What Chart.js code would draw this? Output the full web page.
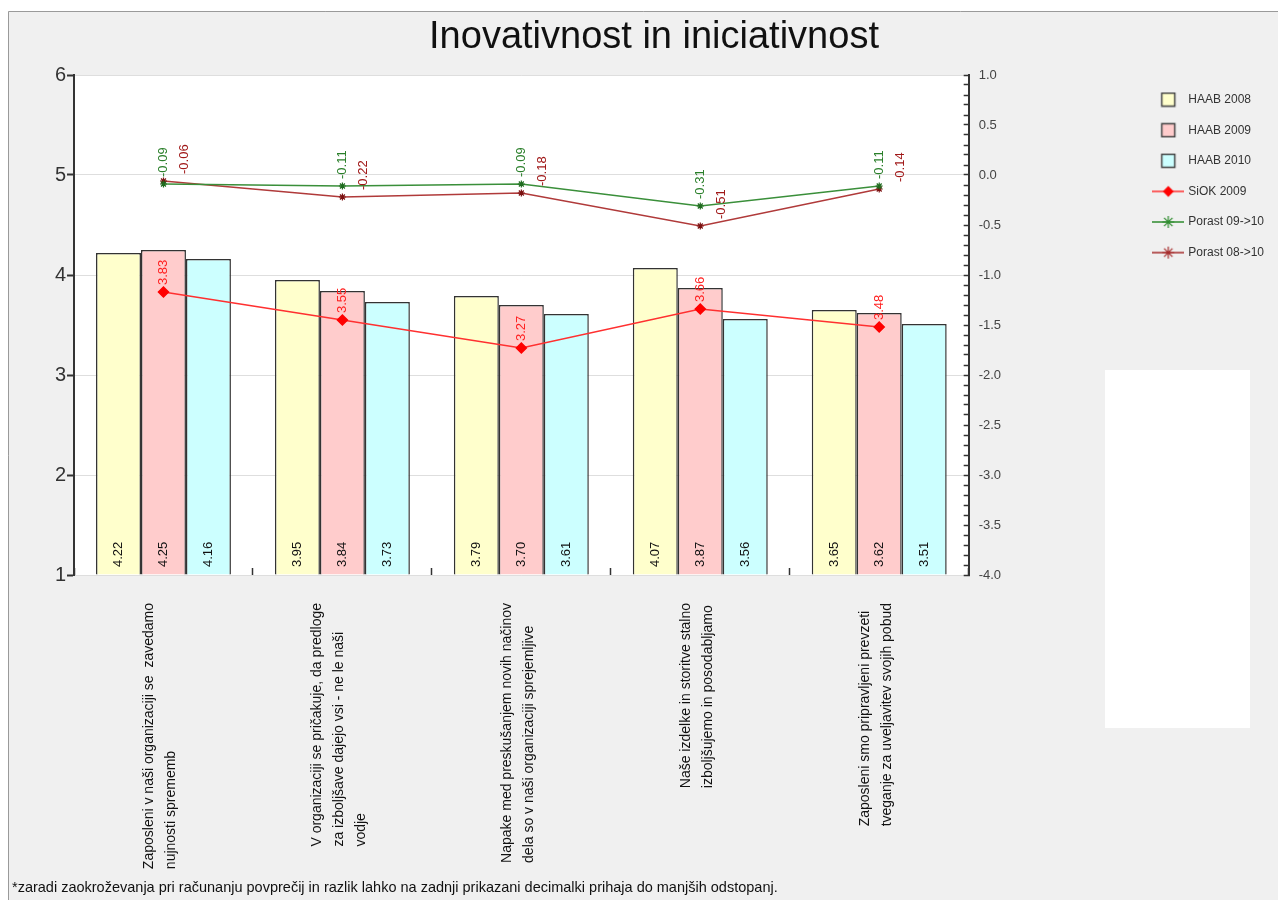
<!DOCTYPE html>
<html>
<head>
<meta charset="utf-8">
<title>Inovativnost in iniciativnost</title>
<script src="https://cdn.jsdelivr.net/npm/chart.js@4.4.1/dist/chart.umd.min.js"></script>
<style>
  html, body { margin: 0; padding: 0; background: #fff; }
  #wrap { position: relative; width: 1278px; height: 900px; }
</style>
</head>
<body>
<div id="wrap"><canvas id="mychart" width="1278" height="900"></canvas></div>
<script>
// categories, one array of lines per question
var categories = [
    ['Zaposleni v naši organizaciji se  zavedamo', 'nujnosti sprememb'],
    ['V organizaciji se pričakuje, da predloge', 'za izboljšave dajejo vsi - ne le naši', 'vodje'],
    ['Napake med preskušanjem novih načinov', 'dela so v naši organizaciji sprejemljive'],
    ['Naše izdelke in storitve stalno', 'izboljšujemo in posodabljamo'],
    ['Zaposleni smo pripravljeni prevzeti', 'tveganje za uveljavitev svojih pobud']
]

// series values
var haab2008 = [4.22, 3.95, 3.79, 4.07, 3.65]
var haab2009 = [4.25, 3.84, 3.70, 3.87, 3.62]
var haab2010 = [4.16, 3.73, 3.61, 3.56, 3.51]
var siok2009 = [3.83, 3.55, 3.27, 3.66, 3.48]
var porast0910 = [-0.09, -0.11, -0.09, -0.31, -0.11]
var porast0810 = [-0.06, -0.22, -0.18, -0.51, -0.14]

// axis ranges
var leftAxis = [1, 6, 1]        // min, max, step
var rightAxis = [-4, 1, 0.1]    // min, max, minor step

var footnote = '*zaradi zaokroževanja pri računanju povprečij in razlik lahko na zadnji prikazani decimalki prihaja do manjših odstopanj.'
var fontFamily = '"Liberation Sans", Arial, sans-serif'

Chart.defaults.font.family = fontFamily

// small canvases used as legend symbols
function makeIcon(kind, fill, stroke) {
    var c = document.createElement('canvas')
    c.width = 32
    c.height = 16
    var g = c.getContext('2d')
    if (kind == 'box') {
        g.fillStyle = fill
        g.fillRect(9.5, 1.5, 13, 13)
        g.strokeStyle = '#444'
        g.lineWidth = 1.5
        g.strokeRect(9.5, 1.5, 13, 13)
        return c
    }
    g.strokeStyle = stroke
    g.lineWidth = 1.5
    g.beginPath()
    g.moveTo(0, 8)
    g.lineTo(32, 8)
    g.stroke()
    if (kind == 'diamond') {
        g.fillStyle = fill
        g.beginPath()
        g.moveTo(16, 2.5)
        g.lineTo(21.5, 8)
        g.lineTo(16, 13.5)
        g.lineTo(10.5, 8)
        g.closePath()
        g.fill()
    } else {
        g.lineWidth = 1.2
        g.beginPath()
        g.moveTo(16, 2); g.lineTo(16, 14)
        g.moveTo(10, 8); g.lineTo(22, 8)
        g.moveTo(11.8, 3.8); g.lineTo(20.2, 12.2)
        g.moveTo(20.2, 3.8); g.lineTo(11.8, 12.2)
        g.stroke()
    }
    return c
}

var legendIcons = [
    makeIcon('box', '#ffffcc'),
    makeIcon('box', '#ffcccc'),
    makeIcon('box', '#ccffff'),
    makeIcon('diamond', '#ff0000', '#ff3030'),
    makeIcon('star', null, '#2e8b2e'),
    makeIcon('star', null, '#a52a2a')
]

function vtext(ctx, txt, x, y) {
    ctx.save()
    ctx.translate(x, y)
    ctx.rotate(-Math.PI / 2)
    ctx.fillText(txt, 0, 0)
    ctx.restore()
}

// grey frame, white plot area and the footnote
var framePlugin = {
    id: 'frame',
    beforeDraw: function (chart) {
        var ctx = chart.ctx, a = chart.chartArea
        ctx.save()
        ctx.fillStyle = '#ffffff'
        ctx.fillRect(0, 0, chart.width, chart.height)
        ctx.fillStyle = '#f0f0f0'
        ctx.fillRect(8, 11, chart.width - 8, chart.height - 11)
        ctx.strokeStyle = '#9a9a9a'
        ctx.lineWidth = 1
        ctx.beginPath()
        ctx.moveTo(8.5, chart.height)
        ctx.lineTo(8.5, 11.5)
        ctx.lineTo(chart.width, 11.5)
        ctx.stroke()
        ctx.fillStyle = '#ffffff'
        ctx.fillRect(a.left, a.top, a.right - a.left, a.bottom - a.top)
        // the empty white box under the legend
        ctx.fillRect(1105, 370, 145, 358)
        ctx.restore()
    },
    afterDraw: function (chart) {
        var ctx = chart.ctx
        ctx.save()
        ctx.font = '14.5px ' + fontFamily
        ctx.fillStyle = '#111'
        ctx.textAlign = 'left'
        ctx.textBaseline = 'middle'
        ctx.fillText(footnote, 12, 888)
        ctx.restore()
    }
}

// value labels and the vertical category labels
var labelPlugin = {
    id: 'valueLabels',
    afterDatasetsDraw: function (chart) {
        var ctx = chart.ctx, area = chart.chartArea
        ctx.save()
        ctx.textAlign = 'left'
        ctx.textBaseline = 'middle'

        // numbers at the foot of the bars
        ctx.font = '13px ' + fontFamily
        ctx.fillStyle = '#111'
        for (var d = 0; d < 3; d++) {
            var meta = chart.getDatasetMeta(d)
            meta.data.forEach(function (bar, j) {
                vtext(ctx, chart.data.datasets[d].data[j].toFixed(2), bar.x, area.bottom - 8)
            })
        }

        // numbers above the line points
        var lineLabels = [
            { ds: 3, color: '#ff2020', dx: 0 },
            { ds: 4, color: '#2a7f2a', dx: 0 },
            { ds: 5, color: '#a01818', dx: 21 }
        ]
        ctx.font = '13px ' + fontFamily
        lineLabels.forEach(function (l) {
            ctx.fillStyle = l.color
            chart.getDatasetMeta(l.ds).data.forEach(function (pt, j) {
                vtext(ctx, chart.data.datasets[l.ds].data[j].toFixed(2), pt.x + l.dx, pt.y - 7)
            })
        })

        // category labels under the axis
        var xs = chart.scales.x
        ctx.font = '14px ' + fontFamily
        ctx.fillStyle = '#111'
        chart.data.labels.forEach(function (lines, i) {
            var w = 0
            lines.forEach(function (t) { w = Math.max(w, ctx.measureText(t).width) })
            var startY = area.bottom + 28 + w
            var cx = xs.getPixelForValue(i) - 3
            lines.forEach(function (t, k) {
                vtext(ctx, t, cx + (k - (lines.length - 1) / 2) * 22, startY)
            })
        })
        ctx.restore()
    }
}

var mychart = document.getElementById('mychart').getContext('2d')
var chart = new Chart(mychart, {
    type: 'bar',
    data: {
        labels: categories,
        datasets: [
            {
                label: 'HAAB 2008',
                data: haab2008,
                backgroundColor: '#ffffcc',
                borderColor: '#333',
                borderWidth: 1.5,
                base: leftAxis[0],
                yAxisID: 'y',
                order: 2
            },
            {
                label: 'HAAB 2009',
                data: haab2009,
                backgroundColor: '#ffcccc',
                borderColor: '#333',
                borderWidth: 1.5,
                base: leftAxis[0],
                yAxisID: 'y',
                order: 2
            },
            {
                label: 'HAAB 2010',
                data: haab2010,
                backgroundColor: '#ccffff',
                borderColor: '#333',
                borderWidth: 1.5,
                base: leftAxis[0],
                yAxisID: 'y',
                order: 2
            },
            {
                type: 'line',
                label: 'SiOK 2009',
                data: siok2009,
                borderColor: '#ff3030',
                backgroundColor: '#ff0000',
                borderWidth: 1.5,
                pointStyle: 'rectRot',
                pointRadius: 5,
                pointBorderColor: '#ff0000',
                lineTension: 0,
                yAxisID: 'y',
                order: 1
            },
            {
                type: 'line',
                label: 'Porast 09->10',
                data: porast0910,
                borderColor: '#3a8f3a',
                backgroundColor: '#1f6b1f',
                borderWidth: 1.5,
                pointStyle: 'star',
                pointRadius: 3.5,
                pointBorderColor: '#1f6b1f',
                pointBorderWidth: 1.2,
                lineTension: 0,
                yAxisID: 'y1',
                order: 1
            },
            {
                type: 'line',
                label: 'Porast 08->10',
                data: porast0810,
                borderColor: '#b03a3a',
                backgroundColor: '#7a1010',
                borderWidth: 1.5,
                pointStyle: 'star',
                pointRadius: 3.5,
                pointBorderColor: '#7a1010',
                pointBorderWidth: 1.2,
                lineTension: 0,
                yAxisID: 'y1',
                order: 1
            }
        ]
    },
    options: {
        responsive: false,
        animation: false,
        devicePixelRatio: 1,
        events: [],
        layout: { padding: { left: 34, right: 4, top: 12, bottom: 25 } },
        datasets: { bar: { categoryPercentage: 0.754, barPercentage: 1.0 } },
        scales: {
            x: {
                offset: true,
                ticks: { display: false },
                border: { display: false },
                grid: { drawOnChartArea: false, drawTicks: true, tickLength: -7, tickColor: '#333', tickWidth: 1.5 },
                afterFit: function (scale) { scale.height = 300 }
            },
            y: {
                position: 'left',
                min: leftAxis[0],
                max: leftAxis[1],
                ticks: { stepSize: leftAxis[2], color: '#333', font: { size: 20 }, padding: 1 },
                grid: { color: '#dedede', lineWidth: 1, tickColor: '#333', tickLength: 7, tickWidth: 2 },
                border: { color: '#333', width: 2 },
                afterFit: function (scale) { scale.width = 40 }
            },
            y1: {
                position: 'right',
                min: rightAxis[0],
                max: rightAxis[1],
                ticks: {
                    stepSize: rightAxis[2],
                    autoSkip: false,
                    color: '#444',
                    font: { size: 13 },
                    padding: 15,
                    callback: function (v) {
                        var h = v * 2
                        return Math.abs(h - Math.round(h)) < 1e-6 ? v.toFixed(1) : ''
                    }
                },
                grid: { drawOnChartArea: false, tickLength: -5, tickColor: '#333', tickWidth: 1.5 },
                border: { color: '#333', width: 2 },
                afterFit: function (scale) { scale.width = 167 }
            }
        },
        plugins: {
            title: {
                display: true,
                text: 'Inovativnost in iniciativnost',
                color: '#111',
                font: { size: 38, weight: 'normal' },
                padding: { top: 3, bottom: 14.4 }
            },
            legend: {
                position: 'right',
                align: 'start',
                fullSize: false,
                labels: {
                    usePointStyle: true,
                    pointStyleWidth: 28,
                    padding: 18.6,
                    color: '#333',
                    font: { size: 12 },
                    generateLabels: function (chart) {
                        return chart.data.datasets.map(function (ds, i) {
                            return {
                                text: ds.label,
                                pointStyle: legendIcons[i],
                                fillStyle: ds.backgroundColor,
                                strokeStyle: ds.borderColor,
                                lineWidth: 0,
                                fontColor: '#333',
                                hidden: !chart.isDatasetVisible(i),
                                datasetIndex: i
                            }
                        })
                    }
                }
            },
            tooltip: { enabled: false }
        }
    },
    plugins: [framePlugin, labelPlugin]
})
</script>
</body>
</html>
